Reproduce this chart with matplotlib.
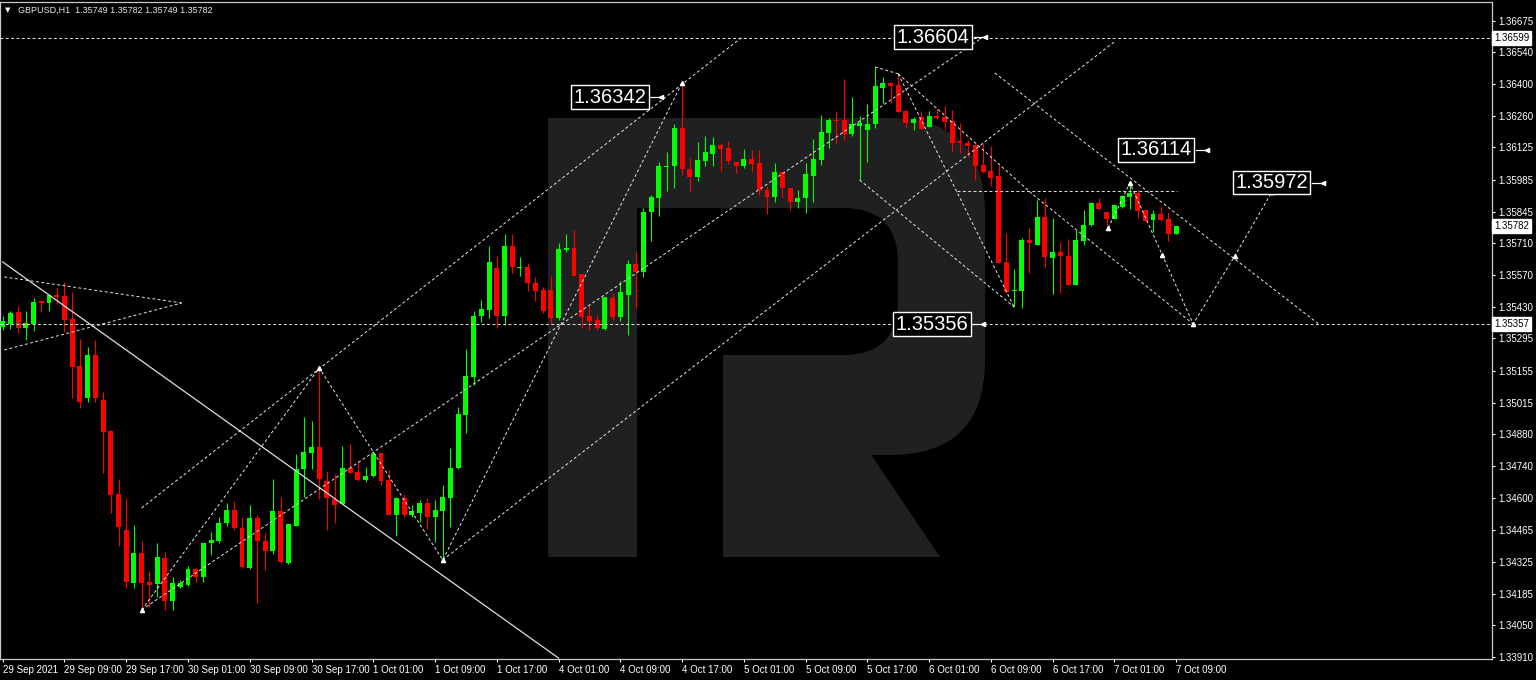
import numpy as np
import matplotlib.pyplot as plt
from matplotlib.patches import Rectangle, Polygon, FancyBboxPatch
from matplotlib.transforms import IdentityTransform

plt.rcParams['font.family'] = ['Liberation Sans', 'DejaVu Sans']

# GBPUSD H1 candles, 29 Sep 01:00 .. 7 Oct 09:00
opens = [
    1.35345, 1.35358, 1.35410, 1.35341, 1.35358, 1.35458, 1.35449, 1.35484, 1.35479, 1.35380,
    1.35175, 1.35036, 1.35223, 1.35028, 1.34893, 1.34620, 1.34463, 1.34233, 1.34363, 1.34237,
    1.34229, 1.34342, 1.34155, 1.34216, 1.34224, 1.34294, 1.34259, 1.34407, 1.34415, 1.34494,
    1.34550, 1.34472, 1.34298, 1.34515, 1.34415, 1.34372, 1.34546, 1.34320, 1.34481, 1.34728,
    1.34798, 1.34824, 1.34676, 1.34598, 1.34576, 1.34732, 1.34715, 1.34680, 1.34698, 1.34798,
    1.34680, 1.34528, 1.34602, 1.34528, 1.34537, 1.34581, 1.34520, 1.34546, 1.34602, 1.34732,
    1.34963, 1.35128, 1.35393, 1.35419, 1.35601, 1.35393, 1.35697, 1.35601, 1.35605, 1.35536,
    1.35506, 1.35506, 1.35384, 1.35679, 1.35688, 1.35575, 1.35393, 1.35375, 1.35336, 1.35471,
    1.35388, 1.35484, 1.35618, 1.35584, 1.35844, 1.35905, 1.36040, 1.36044, 1.36209, 1.36031,
    1.35996, 1.36066, 1.36096, 1.36135, 1.36122, 1.36061, 1.36044, 1.36074, 1.36057, 1.35940,
    1.35909, 1.36018, 1.35948, 1.35888, 1.35905, 1.36001, 1.36070, 1.36187, 1.36244, 1.36244,
    1.36183, 1.36218, 1.36200, 1.36226, 1.36383, 1.36405, 1.36396, 1.36283, 1.36231, 1.36257,
    1.36213, 1.36261, 1.36257, 1.36239, 1.36153, 1.36144, 1.36135, 1.36048, 1.36022, 1.36001,
    1.35627, 1.35501, 1.35501, 1.35723, 1.35701, 1.35823, 1.35645, 1.35671, 1.35653, 1.35527,
    1.35718, 1.35788, 1.35883, 1.35844, 1.35814, 1.35866, 1.35909, 1.35927, 1.35853, 1.35810,
    1.35836, 1.35814, 1.35749,
]
highs = [
    1.35393, 1.35414, 1.35436, 1.35414, 1.35471, 1.35462, 1.35484, 1.35519, 1.35540, 1.35497,
    1.35293, 1.35258, 1.35288, 1.35062, 1.34898, 1.34685, 1.34602, 1.34485, 1.34415, 1.34285,
    1.34407, 1.34368, 1.34259, 1.34246, 1.34307, 1.34298, 1.34407, 1.34455, 1.34520, 1.34581,
    1.34589, 1.34520, 1.34572, 1.34528, 1.34450, 1.34685, 1.34607, 1.34489, 1.34793, 1.34954,
    1.34937, 1.35167, 1.34719, 1.34706, 1.34828, 1.34837, 1.34763, 1.34737, 1.34802, 1.34798,
    1.34724, 1.34607, 1.34620, 1.34572, 1.34594, 1.34602, 1.34594, 1.34659, 1.34819, 1.34997,
    1.35249, 1.35414, 1.35462, 1.35697, 1.35653, 1.35749, 1.35749, 1.35649, 1.35623, 1.35562,
    1.35519, 1.35566, 1.35710, 1.35749, 1.35766, 1.35575, 1.35440, 1.35397, 1.35475, 1.35492,
    1.35545, 1.35636, 1.35675, 1.35862, 1.35918, 1.36061, 1.36105, 1.36226, 1.36405, 1.36079,
    1.36148, 1.36174, 1.36170, 1.36144, 1.36153, 1.36061, 1.36118, 1.36114, 1.36114, 1.35957,
    1.36057, 1.36018, 1.35948, 1.35940, 1.36057, 1.36161, 1.36266, 1.36253, 1.36283, 1.36422,
    1.36344, 1.36261, 1.36313, 1.36474, 1.36431, 1.36409, 1.36444, 1.36283, 1.36257, 1.36283,
    1.36283, 1.36296, 1.36305, 1.36287, 1.36231, 1.36157, 1.36140, 1.36144, 1.36131, 1.36048,
    1.35753, 1.35597, 1.35731, 1.35775, 1.35896, 1.35905, 1.35818, 1.35714, 1.35727, 1.35766,
    1.35853, 1.35888, 1.35905, 1.35844, 1.35875, 1.35918, 1.35970, 1.35940, 1.35853, 1.35853,
    1.35870, 1.35844, 1.35782,
]
lows = [
    1.35332, 1.35336, 1.35319, 1.35288, 1.35327, 1.35410, 1.35414, 1.35445, 1.35323, 1.35036,
    1.34993, 1.35019, 1.35019, 1.34711, 1.34537, 1.34394, 1.34211, 1.34211, 1.34116, 1.34129,
    1.34172, 1.34116, 1.34116, 1.34211, 1.34220, 1.34237, 1.34237, 1.34355, 1.34407, 1.34481,
    1.34463, 1.34298, 1.34294, 1.34146, 1.34290, 1.34359, 1.34320, 1.34316, 1.34481, 1.34607,
    1.34728, 1.34598, 1.34463, 1.34494, 1.34576, 1.34711, 1.34676, 1.34672, 1.34693, 1.34659,
    1.34528, 1.34437, 1.34520, 1.34520, 1.34498, 1.34468, 1.34411, 1.34333, 1.34476, 1.34728,
    1.34885, 1.35093, 1.35367, 1.35384, 1.35341, 1.35354, 1.35579, 1.35566, 1.35501, 1.35458,
    1.35406, 1.35362, 1.35375, 1.35671, 1.35566, 1.35341, 1.35332, 1.35332, 1.35332, 1.35375,
    1.35371, 1.35310, 1.35427, 1.35562, 1.35718, 1.35827, 1.35935, 1.35948, 1.36005, 1.35935,
    1.35979, 1.36044, 1.36044, 1.36022, 1.36053, 1.36014, 1.36035, 1.36018, 1.35918, 1.35836,
    1.35888, 1.35909, 1.35853, 1.35862, 1.35840, 1.35888, 1.36048, 1.36122, 1.36140, 1.36157,
    1.36174, 1.35983, 1.36061, 1.36209, 1.36318, 1.36318, 1.36279, 1.36209, 1.36200, 1.36205,
    1.36213, 1.36248, 1.36205, 1.36109, 1.36101, 1.36083, 1.35983, 1.36014, 1.35957, 1.35623,
    1.35492, 1.35432, 1.35427, 1.35579, 1.35701, 1.35605, 1.35488, 1.35492, 1.35527, 1.35527,
    1.35701, 1.35783, 1.35853, 1.35766, 1.35814, 1.35862, 1.35857, 1.35818, 1.35805, 1.35757,
    1.35805, 1.35718, 1.35749,
]
closes = [
    1.35371, 1.35406, 1.35341, 1.35362, 1.35453, 1.35449, 1.35484, 1.35475, 1.35375, 1.35171,
    1.35019, 1.35223, 1.35036, 1.34889, 1.34615, 1.34476, 1.34237, 1.34363, 1.34233, 1.34224,
    1.34346, 1.34155, 1.34233, 1.34233, 1.34294, 1.34259, 1.34407, 1.34420, 1.34494, 1.34550,
    1.34472, 1.34303, 1.34515, 1.34415, 1.34372, 1.34546, 1.34324, 1.34489, 1.34728, 1.34802,
    1.34824, 1.34685, 1.34602, 1.34572, 1.34732, 1.34711, 1.34680, 1.34698, 1.34793, 1.34676,
    1.34528, 1.34602, 1.34528, 1.34546, 1.34581, 1.34520, 1.34550, 1.34607, 1.34732, 1.34967,
    1.35132, 1.35393, 1.35423, 1.35627, 1.35393, 1.35697, 1.35605, 1.35605, 1.35536, 1.35501,
    1.35414, 1.35384, 1.35684, 1.35688, 1.35566, 1.35388, 1.35371, 1.35341, 1.35475, 1.35388,
    1.35497, 1.35618, 1.35584, 1.35844, 1.35909, 1.36044, 1.36044, 1.36209, 1.36031, 1.35996,
    1.36070, 1.36105, 1.36135, 1.36118, 1.36066, 1.36044, 1.36074, 1.36053, 1.35940, 1.35909,
    1.36018, 1.35948, 1.35888, 1.35905, 1.36009, 1.36074, 1.36192, 1.36244, 1.36239, 1.36183,
    1.36226, 1.36231, 1.36226, 1.36391, 1.36405, 1.36391, 1.36279, 1.36231, 1.36248, 1.36205,
    1.36261, 1.36253, 1.36235, 1.36144, 1.36144, 1.36131, 1.36044, 1.36018, 1.35992, 1.35623,
    1.35497, 1.35506, 1.35723, 1.35710, 1.35823, 1.35649, 1.35671, 1.35653, 1.35527, 1.35723,
    1.35788, 1.35883, 1.35857, 1.35814, 1.35875, 1.35914, 1.35927, 1.35849, 1.35805, 1.35836,
    1.35810, 1.35749, 1.35782,
]

time_labels = ['29 Sep 2021', '29 Sep 09:00', '29 Sep 17:00', '30 Sep 01:00', '30 Sep 09:00',
               '30 Sep 17:00', '1 Oct 01:00', '1 Oct 09:00', '1 Oct 17:00', '4 Oct 01:00',
               '4 Oct 09:00', '4 Oct 17:00', '5 Oct 01:00', '5 Oct 09:00', '5 Oct 17:00',
               '6 Oct 01:00', '6 Oct 09:00', '6 Oct 17:00', '7 Oct 01:00', '7 Oct 09:00']
price_ticks = [1.36675, 1.36540, 1.36400, 1.36260, 1.36125, 1.35985, 1.35845, 1.35710,
               1.35570, 1.35430, 1.35295, 1.35155, 1.35015, 1.34880, 1.34740, 1.34600,
               1.34465, 1.34325, 1.34185, 1.34050, 1.33910]

# analyst drawings: (bar index, price) anchors
hlines = [1.36599, 1.35357]
axis_marks = [1.36599, 1.35782, 1.35357]
solid_x, solid_p = [0, 72], [1.35627, 1.33907]
tri_x = [[0.2, 23.2], [0.2, 23.2]]
tri_p = [[1.35562, 1.35449], [1.35245, 1.35449]]
zig_left_x = [18, 41, 57, 88]
zig_left_p = [1.34116, 1.35167, 1.34333, 1.36405]
chan_x = [[18, 95.8], [18, 127], [57, 144], [113, 116], [116, 131], [116, 133.5],
          [111, 131], [123.6, 152.1], [128.5, 170.6], [133.5, 154.2]]
chan_p = [[1.34559, 1.36604], [1.34116, 1.36604], [1.34333, 1.36583], [1.36474, 1.36444],
          [1.36444, 1.35432], [1.36444, 1.35918], [1.35983, 1.35432], [1.35935, 1.35935],
          [1.36448, 1.35354], [1.35918, 1.35358]]
zig_right_x = [143.2, 146, 150.2, 154.2, 159.6, 164.4]
zig_right_p = [1.35775, 1.35970, 1.35658, 1.35358, 1.35654, 1.35931]
level_text = ['1.36342', '1.36604', '1.36114', '1.35972', '1.35356']
level_x = [85.3, 127.2, 156.0, 171.0, 127.0]
level_p = [1.36342, 1.36604, 1.36114, 1.35972, 1.35356]

W, H = 1536, 680
fig = plt.figure(figsize=(W / 100, H / 100), dpi=100, facecolor='black')
ax = fig.add_axes([0, 21 / H, 1492 / W, 657 / H], facecolor='black')


def px(x, y):
    return (x, H - y)


# watermark logo (pixel geometry)
ident = IdentityTransform()
logo_gray = '#202020'
shapes = [
    FancyBboxPatch(px(548, 455), 985 - 548, 455 - 118,
                   boxstyle='round,pad=0,rounding_size=95', fc=logo_gray, ec='none'),
    Rectangle(px(548, 455), 250, 455 - 118, fc=logo_gray, ec='none'),
    Rectangle(px(548, 557), 637 - 548, 557 - 118, fc=logo_gray, ec='none'),
    Polygon([px(723, 450), px(868, 450), px(940, 557), px(723, 557)], fc=logo_gray, ec='none'),
    FancyBboxPatch(px(637, 355), 898 - 637, 355 - 208,
                   boxstyle='round,pad=0,rounding_size=55', fc='black', ec='none'),
    Rectangle(px(637, 355), 150, 355 - 208, fc='black', ec='none'),
    Rectangle(px(637, 557), 723 - 637, 557 - 208, fc='black', ec='none'),
]
for s in shapes:
    s.set_transform(ident)
    s.set_zorder(0.5)
    ax.add_artist(s)

# candles
o, h, l, c = map(np.array, (opens, highs, lows, closes))
x = np.arange(len(o))
col = np.where(c >= o, '#00ff00', '#ff0000')
ax.vlines(x, l, h, colors=col, lw=0.8, zorder=3)
body_h = np.maximum(np.abs(c - o), 0.00005)
ax.bar(x, body_h, bottom=np.minimum(o, c), width=0.64, color=col, lw=0, zorder=3)

# drawings
dash = dict(color='#e6e6e6', lw=0.7, ls=(0, (3, 2.5)), zorder=4)
for p in hlines:
    ax.axhline(p, **dash)
ax.plot(solid_x, solid_p, color='#e0e0e0', lw=0.9, zorder=4)
for xs, ps in zip(tri_x, tri_p):
    ax.plot(xs, ps, **dash)
ax.plot(zig_left_x, zig_left_p, **dash)
for xs, ps in zip(chan_x, chan_p):
    ax.plot(xs, ps, **dash)
ax.plot(zig_right_x, zig_right_p, **dash)
ax.plot(zig_left_x + zig_right_x, zig_left_p + zig_right_p, ls='none', marker='^',
        ms=3, color='white', zorder=5)

for t, xi, p in zip(level_text, level_x, level_p):
    ax.plot([xi - 1.4, xi], [p, p], color='white', lw=0.9, zorder=5)
    ax.plot([xi], [p], marker='<', ms=3, color='white', zorder=5)
    ax.annotate(t, xy=(xi - 1.4, p), xytext=(-3, 0), textcoords='offset points',
                ha='right', va='center', fontsize=14.5, color='white', zorder=6,
                bbox=dict(boxstyle='square,pad=0.12', fc='black', ec='white', lw=1))

for p in axis_marks:
    ax.text(1 + 2 / 1492, p, f'{p:.5f}', transform=ax.get_yaxis_transform(),
            ha='left', va='center', fontsize=7, color='black', clip_on=False, zorder=6,
            bbox=dict(boxstyle='square,pad=0.2', fc='white', ec='white'))

# axes
ax.set_xlim(-0.35, 192.91)
ax.set_ylim(1.33903, 1.36756)
ax.set_xticks(np.arange(0, len(o), 8))
ax.set_xticklabels(time_labels, ha='left')
ax.set_yticks(price_ticks)
ax.set_yticklabels([f'{v:.5f}' for v in price_ticks])
ax.yaxis.tick_right()
ax.tick_params(axis='both', colors='white', labelsize=7, length=2.5, width=0.8, pad=2)
for sp in ax.spines.values():
    sp.set_color('#c8c8c8')
    sp.set_linewidth(0.9)

fig.text(5 / W, 1 - 10 / H, '▼', fontsize=5, color='white', va='center', family='DejaVu Sans')
fig.text(18 / W, 1 - 10 / H, 'GBPUSD,H1  1.35749 1.35782 1.35749 1.35782',
         fontsize=6.5, color='#e8e8e8', va='center')

fig.savefig('out.png', dpi=100, facecolor='black')
